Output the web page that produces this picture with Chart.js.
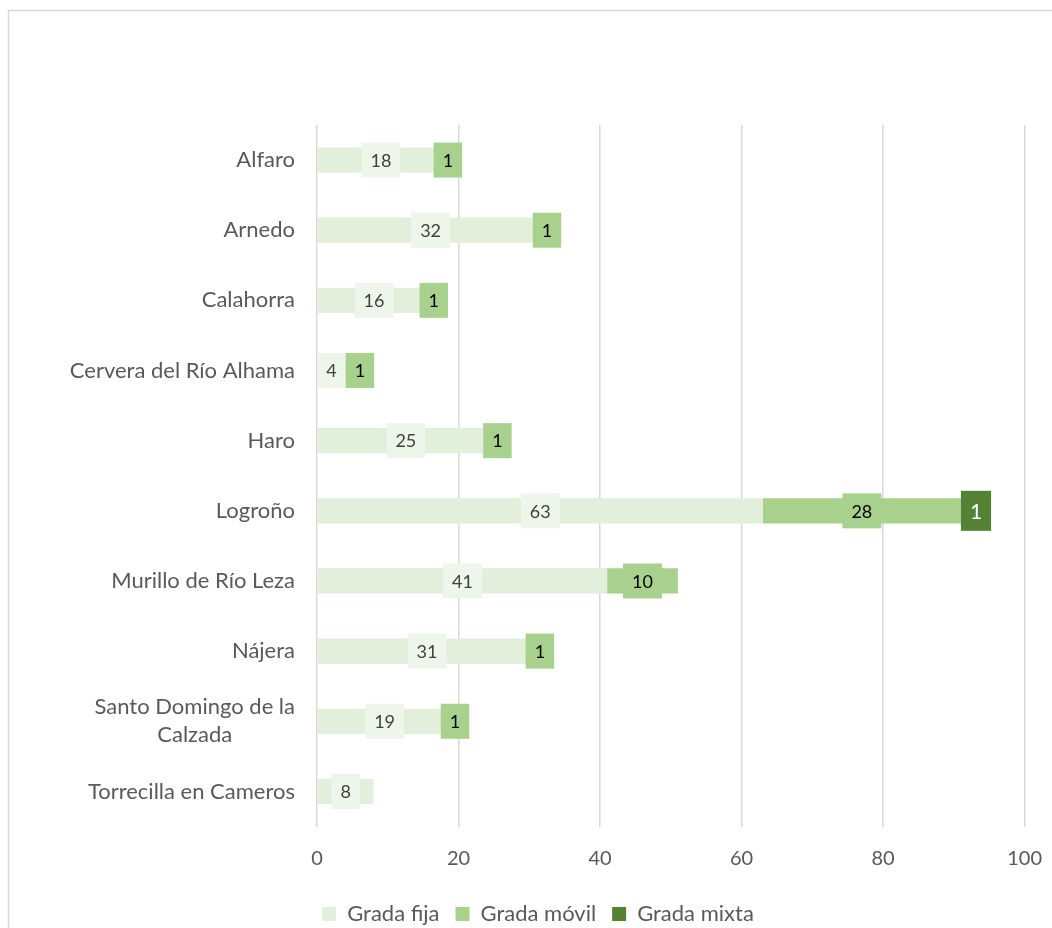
<!DOCTYPE html>
<html>
<head>
<meta charset="utf-8">
<script src="https://cdn.jsdelivr.net/npm/chart.js@4"></script>
<style>
  html, body { margin: 0; padding: 0; background: #ffffff; overflow: hidden; }
  #wrap { width: 1052px; height: 928px; position: relative; }
</style>
</head>
<body>
<div id="wrap"><canvas id="grafico" width="1052" height="928"></canvas></div>
<script>
const municipios = [
  "Alfaro",
  "Arnedo",
  "Calahorra",
  "Cervera del Río Alhama",
  "Haro",
  "Logroño",
  "Murillo de Río Leza",
  "Nájera",
  ["Santo Domingo de la", "Calzada"],
  "Torrecilla en Cameros"
];
const gradaFija = [18, 32, 16, 4, 25, 63, 41, 31, 19, 8];
const gradaMovil = [1, 1, 1, 1, 1, 28, 10, 1, 1, 0];
const gradaMixta = [0, 0, 0, 0, 0, 1, 0, 0, 0, 0];
const ticksX = [0, 20, 40, 60, 80, 100];

const fuente = "Lato, 'Open Sans', sans-serif";

// etiquetas de datos con caja de fondo; si chocan con la anterior se corren a la derecha
const etiquetasPlugin = {
  id: "etiquetas",
  afterDatasetsDraw(chart) {
    const ctx = chart.ctx;
    const ultimoBorde = {};
    chart.data.datasets.forEach((ds, i) => {
      const meta = chart.getDatasetMeta(i);
      meta.data.forEach((bar, j) => {
        const valor = ds.data[j];
        if (!valor) return;
        const txt = String(valor);
        ctx.save();
        ctx.font = ds.etiquetaFont + "px " + fuente;
        const w = ctx.measureText(txt).width + ds.etiquetaPad * 2;
        const h = ds.etiquetaAlto;
        const inicio = Math.min(bar.base, bar.x);
        let izq = (bar.x + bar.base) / 2 - w / 2;
        if (ds.etiquetaAncla === "start") izq = inicio;
        if (ultimoBorde[j] !== undefined && izq < ultimoBorde[j]) izq = ultimoBorde[j];
        ultimoBorde[j] = izq + w;
        ctx.fillStyle = ds.etiquetaFondo;
        ctx.fillRect(izq, bar.y - h / 2, w, h);
        ctx.fillStyle = ds.etiquetaColor;
        ctx.textAlign = "center";
        ctx.textBaseline = "middle";
        ctx.fillText(txt, izq + w / 2, bar.y + 1);
        ctx.restore();
      });
    });
  }
};

// etiquetas del eje Y (las de dos líneas van centradas entre sí)
const ejeYPlugin = {
  id: "ejeY",
  afterDraw(chart) {
    const ctx = chart.ctx;
    const escala = chart.scales.y;
    ctx.save();
    ctx.font = "22px " + fuente;
    ctx.fillStyle = "#595959";
    ctx.textBaseline = "middle";
    ctx.textAlign = "center";
    const derecha = escala.right - 22;
    municipios.forEach((nombre, i) => {
      const lineas = Array.isArray(nombre) ? nombre : [nombre];
      const anchoMax = Math.max(...lineas.map((l) => ctx.measureText(l).width));
      const y = escala.getPixelForTick(i);
      const alto = 28;
      lineas.forEach((l, k) => {
        const yy = y - ((lineas.length - 1) * alto) / 2 + k * alto;
        ctx.fillText(l, derecha - anchoMax / 2, yy);
      });
    });
    ctx.restore();
  }
};

const bordePlugin = {
  id: "borde",
  afterLayout(chart) {
    // mover la leyenda un poco hacia abajo y a la derecha
    chart.legend.top += 7;
    chart.legend.bottom += 7;
    chart.legend.left += 20;
    chart.legend.right += 20;
  },
  beforeDraw(chart) {
    const ctx = chart.ctx;
    ctx.save();
    ctx.strokeStyle = "#d9d9d9";
    ctx.lineWidth = 1.5;
    ctx.strokeRect(8.5, 10.5, 1200, 1200);
    ctx.restore();
  }
};

const config = {
  type: "bar",
  data: {
    labels: municipios,
    datasets: [
      {
        label: "Grada fija",
        data: gradaFija,
        backgroundColor: "#e2efda",
        etiquetaFondo: "#eef5ea",
        etiquetaColor: "#404040",
        etiquetaFont: 18,
        etiquetaPad: 9,
        etiquetaAlto: 35
      },
      {
        label: "Grada móvil",
        data: gradaMovil,
        backgroundColor: "#a9d18e",
        etiquetaFondo: "#a9d18e",
        etiquetaColor: "#000000",
        etiquetaFont: 18,
        etiquetaPad: 9,
        etiquetaAlto: 35
      },
      {
        label: "Grada mixta",
        data: gradaMixta,
        backgroundColor: "#548235",
        etiquetaFondo: "#548235",
        etiquetaColor: "#ffffff",
        etiquetaFont: 21,
        etiquetaPad: 9,
        etiquetaAlto: 40,
        etiquetaAncla: "start"
      }
    ]
  },
  options: {
    indexAxis: "y",
    responsive: false,
    animation: false,
    events: [],
    layout: { padding: { top: 125, right: 16, left: 0, bottom: 0 } },
    datasets: {
      bar: { categoryPercentage: 1, barPercentage: 0.36, borderWidth: 0 }
    },
    scales: {
      x: {
        stacked: true,
        min: 0,
        max: 100,
        afterBuildTicks(scale) {
          scale.ticks = ticksX.map((v) => ({ value: v }));
        },
        afterFit(scale) {
          scale.height = 53.5;
        },
        grid: {
          color: "#d9d9d9",
          lineWidth: 1.5,
          drawTicks: true,
          tickLength: 10,
          tickColor: "rgba(0,0,0,0)"
        },
        border: { display: false },
        ticks: {
          color: "#595959",
          font: { family: fuente, size: 20 },
          padding: 10
        }
      },
      y: {
        stacked: true,
        grid: { display: false },
        border: { display: false },
        ticks: { display: false },
        afterFit(scale) {
          scale.width = 317;
        }
      }
    },
    plugins: {
      legend: {
        position: "bottom",
        labels: {
          color: "#595959",
          font: { family: fuente, size: 22 },
          boxWidth: 14,
          boxHeight: 14,
          padding: 16
        }
      },
      tooltip: { enabled: false }
    }
  },
  plugins: [bordePlugin, etiquetasPlugin, ejeYPlugin]
};

new Chart(document.getElementById("grafico"), config);
</script>
</body>
</html>
